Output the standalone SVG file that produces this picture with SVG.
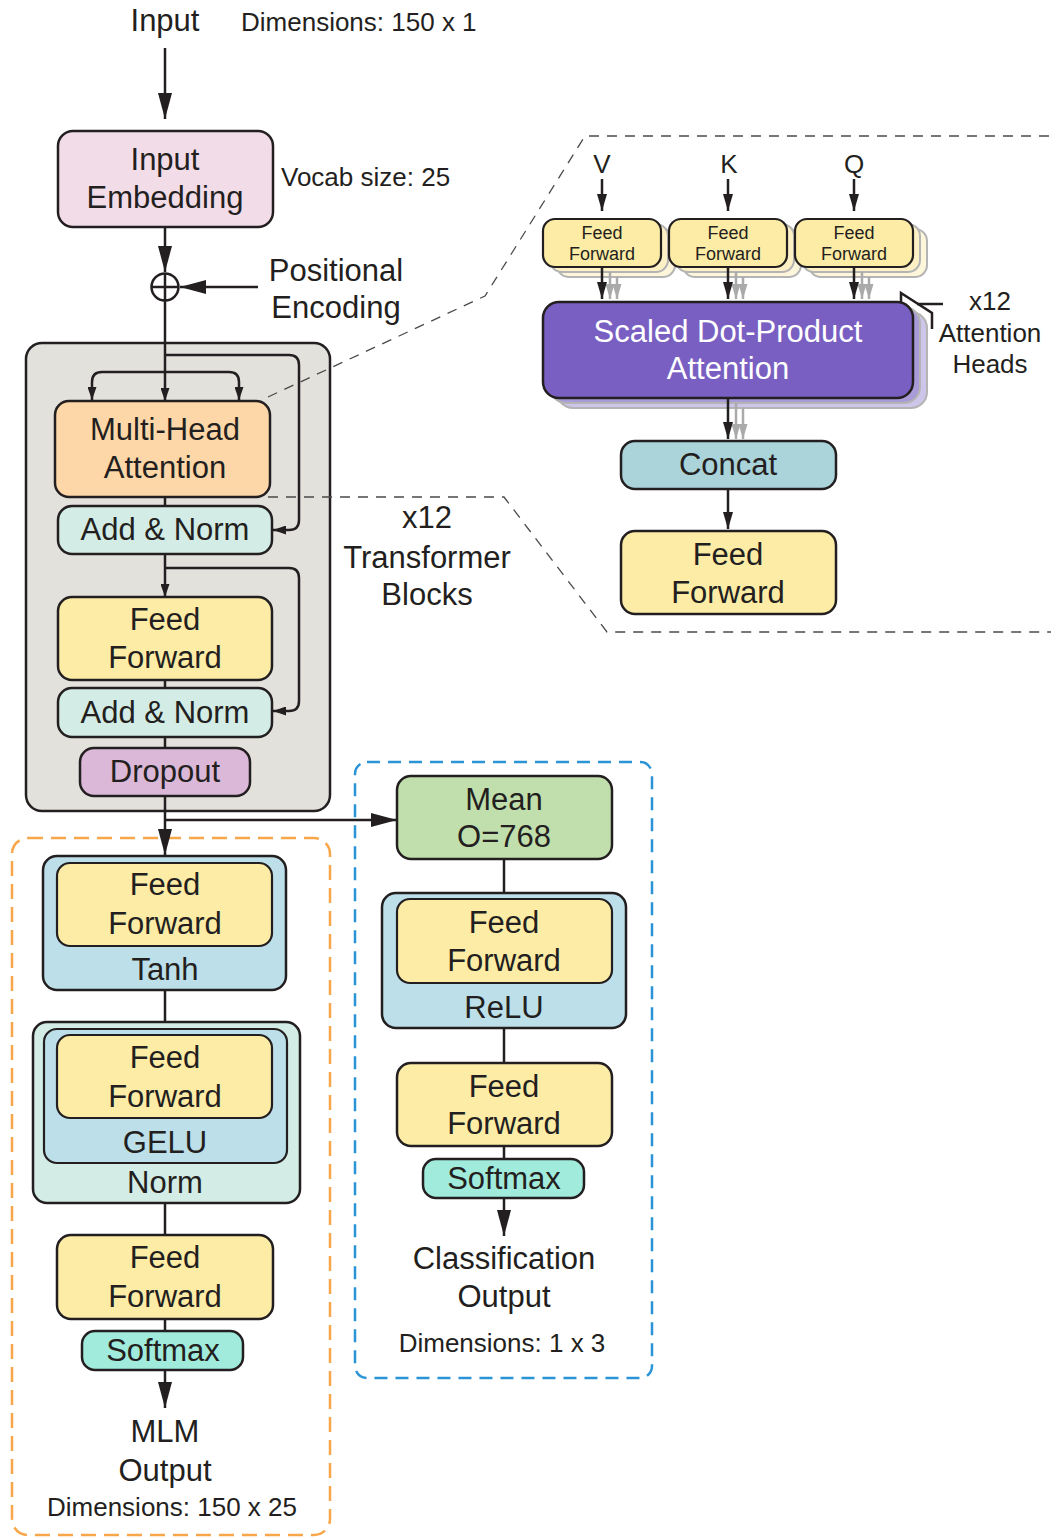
<svg xmlns="http://www.w3.org/2000/svg" width="1051" height="1538" viewBox="0 0 1051 1538">
<defs>
<style>
.t{font-family:"Liberation Sans",Arial,sans-serif;font-size:31px;fill:#231f20;text-anchor:middle}
.s{font-size:26px}
.xs{font-size:18px}
.w{fill:#ffffff}
.st{text-anchor:start}
.box{stroke:#231f20;stroke-width:2.5}
.ibox{stroke:#231f20;stroke-width:2.2}
.cp{stroke:#b4b4b4;stroke-width:2}
.ln{stroke:#231f20;stroke-width:2.5;fill:none}
.gl{stroke:#aaaaaa;stroke-width:2.5;fill:none}
.dash{stroke:#4a4a4a;stroke-width:1.3;stroke-dasharray:10 8;fill:none}
.yel{fill:#fdeca6}
.mint{fill:#d3ece5}
.lb{fill:#bddfe9}
.aq{fill:#a1ebdc}
</style>
<marker id="mb" viewBox="0 0 26 14" refX="26" refY="7" markerWidth="26" markerHeight="14" markerUnits="userSpaceOnUse" orient="auto"><path d="M0,0 L26,7 L0,14 Z" fill="#231f20"/></marker>
<marker id="mm" viewBox="0 0 17 10" refX="17" refY="5" markerWidth="17" markerHeight="10" markerUnits="userSpaceOnUse" orient="auto"><path d="M0,0 L17,5 L0,10 Z" fill="#231f20"/></marker>
<marker id="ms" viewBox="0 0 13 9" refX="13" refY="4.5" markerWidth="13" markerHeight="9" markerUnits="userSpaceOnUse" orient="auto"><path d="M0,0 L13,4.5 L0,9 Z" fill="#231f20"/></marker>
<marker id="mg" viewBox="0 0 15 9" refX="15" refY="4.5" markerWidth="15" markerHeight="9" markerUnits="userSpaceOnUse" orient="auto"><path d="M0,0 L15,4.5 L0,9 Z" fill="#aaaaaa"/></marker>
</defs>
<rect x="0" y="0" width="1051" height="1538" fill="#ffffff"/>

<g id="transformer-block">
<rect x="26" y="343" width="304" height="468" rx="16" fill="#e3e1dc" class="box"/>
</g>
<g id="mlm-head-container">
<rect x="12" y="838" width="318" height="697" rx="16" fill="none" stroke="#f8a64a" stroke-width="2.5" stroke-dasharray="15 8"/>
</g>
<g id="cls-head-container">
<rect x="355" y="762" width="297" height="616" rx="12" fill="none" stroke="#2a94d6" stroke-width="2.5" stroke-dasharray="13 8"/>
</g>

<g id="connectors">
<path class="ln" d="M165,48 V119" marker-end="url(#mb)"/>
<path class="ln" d="M165,227 V272" marker-end="url(#mb)"/>
<path class="ln" d="M258,287 H180" marker-end="url(#mb)"/>
<path class="ln" d="M165,300 V401" marker-end="url(#ms)"/>
<path class="ln" d="M165,372 H102 Q92,372 92,382 V400" marker-end="url(#ms)"/>
<path class="ln" d="M165,372 H229 Q239,372 239,382 V400" marker-end="url(#ms)"/>
<path class="ln" d="M165,355 H289 Q299,355 299,365 V520 Q299,530 289,530 H273" marker-end="url(#ms)"/>
<path class="ln" d="M165,497 V506"/>
<path class="ln" d="M165,554 V597" marker-end="url(#ms)"/>
<path class="ln" d="M165,568 H289 Q299,568 299,578 V701 Q299,711 289,711 H273" marker-end="url(#ms)"/>
<path class="ln" d="M165,680 V688"/>
<path class="ln" d="M165,737 V748"/>
<path class="ln" d="M165,796 V855" marker-end="url(#mb)"/>
<path class="ln" d="M165,820 H397" marker-end="url(#mb)"/>
<path class="ln" d="M165,990 V1022"/>
<path class="ln" d="M165,1203 V1235"/>
<path class="ln" d="M165,1319 V1331"/>
<path class="ln" d="M165,1370 V1408" marker-end="url(#mb)"/>
<path class="ln" d="M504,859 V893"/>
<path class="ln" d="M504,1028 V1063"/>
<path class="ln" d="M504,1146 V1159"/>
<path class="ln" d="M504,1198 V1236" marker-end="url(#mb)"/>
<path class="ln" d="M602,179 V211" marker-end="url(#mm)"/>
<path class="ln" d="M728,179 V211" marker-end="url(#mm)"/>
<path class="ln" d="M854,179 V211" marker-end="url(#mm)"/>
<path class="ln" d="M728,489 V529" marker-end="url(#mm)"/>
</g>

<g id="input-embedding">
<rect x="58" y="131" width="215" height="96" rx="15" fill="#f2dce8" class="box"/>
<text class="t" x="165" y="170">Input</text>
<text class="t" x="165" y="208">Embedding</text>
</g>
<g id="positional-add">
<circle cx="165" cy="287" r="13.5" fill="#ffffff" class="box"/>
<path class="ln" d="M151.5,287 H178.5 M165,273.5 V300.5" stroke-width="2"/>
</g>
<g id="multi-head-attention">
<rect x="55" y="401" width="215" height="96" rx="14" fill="#fdd7a7" class="box"/>
<text class="t" x="165" y="440">Multi-Head</text>
<text class="t" x="165" y="478">Attention</text>
</g>
<g id="add-norm-1">
<rect x="58" y="506" width="214" height="48" rx="14" class="box mint"/>
<text class="t" x="165" y="540">Add &amp; Norm</text>
</g>
<g id="feed-forward-block">
<rect x="58" y="597" width="214" height="83" rx="14" class="box yel"/>
<text class="t" x="165" y="630">Feed</text>
<text class="t" x="165" y="668">Forward</text>
</g>
<g id="add-norm-2">
<rect x="58" y="688" width="214" height="49" rx="14" class="box mint"/>
<text class="t" x="165" y="723">Add &amp; Norm</text>
</g>
<g id="dropout">
<rect x="80" y="748" width="170" height="48" rx="14" fill="#dbb8d7" class="box"/>
<text class="t" x="165" y="782">Dropout</text>
</g>

<g id="tanh-layer">
<rect x="43" y="856" width="243" height="134" rx="14" class="box lb"/>
<rect x="57" y="863" width="215" height="83" rx="13" class="ibox yel"/>
<text class="t" x="165" y="895">Feed</text>
<text class="t" x="165" y="934">Forward</text>
<text class="t" x="165" y="980">Tanh</text>
</g>
<g id="gelu-norm-layer">
<rect x="33" y="1022" width="267" height="181" rx="14" class="box mint"/>
<rect x="44" y="1029" width="243" height="134" rx="13" class="ibox lb"/>
<rect x="57" y="1035" width="215" height="83" rx="13" class="ibox yel"/>
<text class="t" x="165" y="1068">Feed</text>
<text class="t" x="165" y="1107">Forward</text>
<text class="t" x="165" y="1153">GELU</text>
<text class="t" x="165" y="1193">Norm</text>
</g>
<g id="mlm-feed-forward">
<rect x="57" y="1235" width="216" height="84" rx="14" class="box yel"/>
<text class="t" x="165" y="1268">Feed</text>
<text class="t" x="165" y="1307">Forward</text>
</g>
<g id="mlm-softmax">
<rect x="82" y="1331" width="161" height="39" rx="13" class="box aq"/>
<text class="t" x="163" y="1361">Softmax</text>
</g>
<g id="mlm-output">
<text class="t" x="165" y="1442">MLM</text>
<text class="t" x="165" y="1481">Output</text>
<text class="t s" x="172" y="1516" fill="#333333">Dimensions: 150 x 25</text>
</g>

<g id="mean">
<rect x="397" y="776" width="215" height="83" rx="14" fill="#c1dfac" class="box"/>
<text class="t" x="504" y="810">Mean</text>
<text class="t" x="504" y="847">O=768</text>
</g>
<g id="relu-layer">
<rect x="382" y="893" width="244" height="135" rx="14" class="box lb"/>
<rect x="397" y="899" width="215" height="84" rx="13" class="ibox yel"/>
<text class="t" x="504" y="933">Feed</text>
<text class="t" x="504" y="971">Forward</text>
<text class="t" x="504" y="1018">ReLU</text>
</g>
<g id="cls-feed-forward">
<rect x="397" y="1063" width="215" height="83" rx="14" class="box yel"/>
<text class="t" x="504" y="1097">Feed</text>
<text class="t" x="504" y="1134">Forward</text>
</g>
<g id="cls-softmax">
<rect x="423" y="1159" width="161" height="39" rx="13" class="box aq"/>
<text class="t" x="504" y="1189">Softmax</text>
</g>
<g id="cls-output">
<text class="t" x="504" y="1269">Classification</text>
<text class="t" x="504" y="1307">Output</text>
<text class="t s" x="502" y="1352" fill="#333333">Dimensions: 1 x 3</text>
</g>

<g id="input-label">
<text class="t" x="165" y="31">Input</text>
<text class="t s st" x="241" y="31" fill="#333333">Dimensions: 150 x 1</text>
<text class="t s st" x="281" y="186" fill="#333333">Vocab size: 25</text>
<text class="t" x="336" y="281">Positional</text>
<text class="t" x="336" y="318">Encoding</text>
</g>

<g id="zoom-outline">
<path class="dash" d="M268,397 L485,296 L585,136 H1051"/>
<path class="dash" d="M268,497 H504 L607,632 H1051"/>
</g>
<g id="block-label">
<text class="t" x="427" y="528">x12</text>
<text class="t" x="427" y="568">Transformer</text>
<text class="t" x="427" y="605">Blocks</text>
</g>

<g id="qkv-labels">
<text class="t s" x="602" y="173">V</text>
<text class="t s" x="729" y="173">K</text>
<text class="t s" x="854" y="173">Q</text>
</g>
<g id="ff-v">
<rect x="557" y="229" width="118" height="48" rx="12" fill="#fdf6db" class="cp"/>
<rect x="550" y="224" width="118" height="48" rx="12" fill="#fcf0c4" class="cp"/>
<rect x="543" y="219" width="118" height="48" rx="12" class="ibox yel"/>
<text class="t xs" x="602" y="239">Feed</text>
<text class="t xs" x="602" y="260">Forward</text>
</g>
<g id="ff-k">
<rect x="683" y="229" width="118" height="48" rx="12" fill="#fdf6db" class="cp"/>
<rect x="676" y="224" width="118" height="48" rx="12" fill="#fcf0c4" class="cp"/>
<rect x="669" y="219" width="118" height="48" rx="12" class="ibox yel"/>
<text class="t xs" x="728" y="239">Feed</text>
<text class="t xs" x="728" y="260">Forward</text>
</g>
<g id="ff-q">
<rect x="809" y="229" width="118" height="48" rx="12" fill="#fdf6db" class="cp"/>
<rect x="802" y="224" width="118" height="48" rx="12" fill="#fcf0c4" class="cp"/>
<rect x="795" y="219" width="118" height="48" rx="12" class="ibox yel"/>
<text class="t xs" x="854" y="239">Feed</text>
<text class="t xs" x="854" y="260">Forward</text>
</g>
<g id="scaled-dot-product-attention">
<rect x="557" y="312" width="370" height="96" rx="16" fill="#cdc5ea" class="cp"/>
<rect x="550" y="307" width="370" height="96" rx="16" fill="#a99bd8" class="cp"/>
<rect x="543" y="302" width="370" height="96" rx="16" fill="#7a5fc2" class="box"/>
<text class="t w" x="728" y="342">Scaled Dot-Product</text>
<text class="t w" x="728" y="379">Attention</text>
</g>
<g id="head-arrows">
<path class="ln" d="M602,267 V299" marker-end="url(#mm)"/>
<path class="gl" d="M610,272 V299" marker-end="url(#mg)"/>
<path class="gl" d="M617,277 V299" marker-end="url(#mg)"/>
<path class="ln" d="M728,267 V299" marker-end="url(#mm)"/>
<path class="gl" d="M736,272 V299" marker-end="url(#mg)"/>
<path class="gl" d="M743,277 V299" marker-end="url(#mg)"/>
<path class="ln" d="M854,267 V299" marker-end="url(#mm)"/>
<path class="gl" d="M862,272 V299" marker-end="url(#mg)"/>
<path class="gl" d="M869,277 V299" marker-end="url(#mg)"/>
<path class="ln" d="M728,398 V439" marker-end="url(#mm)"/>
<path class="gl" d="M736,403 V439" marker-end="url(#mg)"/>
<path class="gl" d="M743,408 V439" marker-end="url(#mg)"/>
</g>
<g id="heads-bracket">
<path class="ln" d="M901,303 V293 L932,313 V329" stroke-width="2"/>
<path class="ln" d="M917,304 H943" stroke-width="2"/>
<text class="t s" x="990" y="310">x12</text>
<text class="t s" x="990" y="342">Attention</text>
<text class="t s" x="990" y="373">Heads</text>
</g>
<g id="concat">
<rect x="621" y="441" width="215" height="48" rx="14" fill="#aad3da" class="box"/>
<text class="t" x="728" y="475">Concat</text>
</g>
<g id="attn-feed-forward">
<rect x="621" y="531" width="215" height="83" rx="14" class="box yel"/>
<text class="t" x="728" y="565">Feed</text>
<text class="t" x="728" y="603">Forward</text>
</g>
</svg>
